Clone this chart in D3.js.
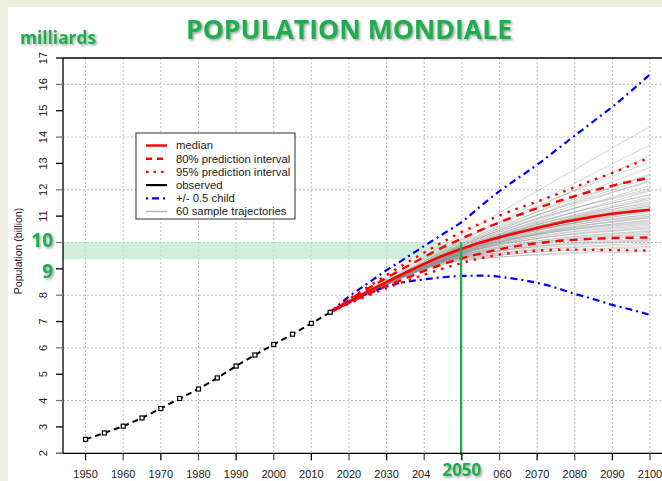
<!DOCTYPE html>
<html>
<head>
<meta charset="utf-8">
<script src="https://cdn.jsdelivr.net/npm/d3@7"></script>
<style>
  body { margin: 0; background: #ffffff; }
  svg { display: block; }
  text { font-family: "Liberation Sans", Arial, sans-serif; }
</style>
</head>
<body>
<div id="chart"></div>
<script>
// observed population 1950-2015 (billions)
const obsYears = [1950, 1955, 1960, 1965, 1970, 1975, 1980, 1985, 1990, 1995, 2000, 2005, 2010, 2015];
const obsValues = [2.53, 2.77, 3.03, 3.34, 3.70, 4.08, 4.44, 4.86, 5.31, 5.73, 6.13, 6.52, 6.93, 7.35];

// projections 2015-2100
const projYears = [2015, 2020, 2025, 2030, 2035, 2040, 2045, 2050, 2055, 2060, 2065, 2070, 2075, 2080, 2085, 2090, 2095, 2100];
const median = [7.35, 7.76, 8.14, 8.50, 8.85, 9.19, 9.50, 9.76, 10.00, 10.20, 10.38, 10.55, 10.71, 10.85, 10.98, 11.09, 11.17, 11.24];
const pi80Up = [7.35, 7.82, 8.25, 8.66, 9.06, 9.45, 9.82, 10.15, 10.47, 10.76, 11.04, 11.30, 11.54, 11.76, 11.97, 12.16, 12.32, 12.45];
const pi80Lo = [7.35, 7.71, 8.04, 8.35, 8.64, 8.92, 9.18, 9.40, 9.58, 9.74, 9.87, 9.97, 10.05, 10.10, 10.14, 10.17, 10.18, 10.19];
const pi95Up = [7.35, 7.85, 8.31, 8.76, 9.20, 9.62, 10.02, 10.40, 10.72, 11.02, 11.30, 11.55, 11.82, 12.10, 12.38, 12.64, 12.93, 13.23];
const pi95Lo = [7.35, 7.68, 7.98, 8.27, 8.53, 8.78, 9.01, 9.22, 9.40, 9.54, 9.63, 9.69, 9.72, 9.73, 9.72, 9.71, 9.70, 9.69];
const childUp = [7.35, 7.95, 8.45, 8.95, 9.40, 9.87, 10.32, 10.78, 11.38, 11.95, 12.45, 12.95, 13.50, 14.05, 14.60, 15.15, 15.75, 16.38];
const childLo = [7.35, 7.72, 8.06, 8.33, 8.50, 8.60, 8.68, 8.73, 8.74, 8.70, 8.60, 8.47, 8.28, 8.05, 7.85, 7.63, 7.45, 7.25];

// 60 sample trajectories: value read at 2050 and 2100
const traj2050 = [10.30, 10.05, 9.95, 10.10, 9.90, 9.85, 10.00, 9.80, 9.95, 9.75,
                  9.85, 9.70, 9.90, 9.78, 9.72, 9.82, 9.68, 9.75, 9.80, 9.66,
                  9.74, 9.70, 9.62, 9.77, 9.64, 9.72, 9.60, 9.69, 9.58, 9.73,
                  9.65, 9.56, 9.70, 9.60, 9.63, 9.55, 9.67, 9.52, 9.58, 9.61,
                  9.50, 9.57, 9.47, 9.54, 9.49, 9.44, 9.53, 9.42, 9.46, 9.40,
                  9.48, 9.36, 9.43, 9.33, 9.39, 9.30, 9.35, 9.62, 9.88, 9.57];
const traj2100 = [14.40, 13.70, 13.30, 13.05, 12.85, 12.60, 12.55, 12.35, 12.30, 12.15,
                  12.05, 11.95, 11.98, 11.82, 11.72, 11.80, 11.55, 11.62, 11.50, 11.40,
                  11.45, 11.33, 11.25, 11.38, 11.18, 11.22, 11.08, 11.15, 10.98, 11.05,
                  10.92, 10.85, 11.00, 10.78, 10.82, 10.70, 10.74, 10.60, 10.65, 10.52,
                  10.45, 10.55, 10.38, 10.42, 10.30, 10.25, 10.33, 10.18, 10.12, 10.05,
                  10.08, 9.98, 9.92, 9.85, 9.80, 9.72, 9.65, 11.68, 12.45, 10.95];

const yTicks = d3.range(2, 18);
const yGrid = [2, 4, 6, 8, 10, 12, 14, 16];
const xTicks = d3.range(1950, 2101, 10);

const width = 662, height = 481;
const svg = d3.select("#chart").append("svg")
    .attr("width", width).attr("height", height);

const defs = svg.append("defs");
const shadow = defs.append("filter").attr("id", "shadow")
    .attr("x", "-10%").attr("y", "-20%").attr("width", "130%").attr("height", "160%");
shadow.append("feDropShadow").attr("dx", 1.5).attr("dy", 1.5)
    .attr("stdDeviation", 0.8).attr("flood-color", "#555").attr("flood-opacity", 0.55);

// page background strips
svg.append("rect").attr("x", 0).attr("y", 0).attr("width", width).attr("height", height).attr("fill", "#ffffff");
svg.append("rect").attr("x", 0).attr("y", 0).attr("width", width).attr("height", 7).attr("fill", "#edefdf");
svg.append("rect").attr("x", 0).attr("y", 0).attr("width", 8).attr("height", height).attr("fill", "#edefdf");

const x = d3.scaleLinear().domain([1944, 2106]).range([63, 672.6]);
const y = d3.scaleLinear().domain([2, 17]).range([453.3, 58]);

const green = "#1fae4f";

// grid
svg.append("g").selectAll("line").data(xTicks).join("line")
    .attr("x1", d => x(d)).attr("x2", d => x(d))
    .attr("y1", y(17)).attr("y2", y(2))
    .attr("stroke", "#bdbdbd").attr("stroke-width", 1).attr("stroke-dasharray", "2,2");
svg.append("g").selectAll("line").data(yGrid).join("line")
    .attr("x1", x(1944)).attr("x2", width)
    .attr("y1", d => y(d)).attr("y2", d => y(d))
    .attr("stroke", "#bdbdbd").attr("stroke-width", 1).attr("stroke-dasharray", "2,2");

// highlighted band 9.4 - 10 up to 2050
svg.append("rect")
    .attr("x", x(1944)).attr("y", y(10))
    .attr("width", x(2049.8) - x(1944)).attr("height", y(9.37) - y(10))
    .attr("fill", "#bfe9cf").attr("opacity", 0.75);

const line = d3.line().x(d => x(d[0])).y(d => y(d[1])).curve(d3.curveMonotoneX);

// sample trajectories
const trajG = svg.append("g");
traj2050.forEach((v, i) => {
  trajG.append("path")
    .attr("d", line([[2015, 7.35], [2050, v], [2100, traj2100[i]]]))
    .attr("fill", "none").attr("stroke", "#8f8f8f")
    .attr("stroke-opacity", 0.4).attr("stroke-width", 0.9);
});

const zip = arr => projYears.map((yr, i) => [yr, arr[i]]);

// +/- 0.5 child
[childUp, childLo].forEach(arr => {
  svg.append("path").attr("d", line(zip(arr)))
    .attr("fill", "none").attr("stroke", "#0000ff").attr("stroke-width", 2.2)
    .attr("stroke-dasharray", "7,4,2,4");
});
// 95% interval
[pi95Up, pi95Lo].forEach(arr => {
  svg.append("path").attr("d", line(zip(arr)))
    .attr("fill", "none").attr("stroke", "#ff0000").attr("stroke-width", 2.4)
    .attr("stroke-dasharray", "2.5,6");
});
// 80% interval
[pi80Up, pi80Lo].forEach(arr => {
  svg.append("path").attr("d", line(zip(arr)))
    .attr("fill", "none").attr("stroke", "#ff0000").attr("stroke-width", 2.4)
    .attr("stroke-dasharray", "8,6");
});
// median
svg.append("path").attr("d", line(zip(median)))
    .attr("fill", "none").attr("stroke", "#ff0000").attr("stroke-width", 2.6);

// observed
const obs = obsYears.map((yr, i) => [yr, obsValues[i]]);
svg.append("path").attr("d", d3.line().x(d => x(d[0])).y(d => y(d[1]))(obs))
    .attr("fill", "none").attr("stroke", "#000").attr("stroke-width", 2)
    .attr("stroke-dasharray", "6,4");
svg.append("g").selectAll("rect").data(obs).join("rect")
    .attr("x", d => x(d[0]) - 2).attr("y", d => y(d[1]) - 2)
    .attr("width", 4).attr("height", 4)
    .attr("fill", "#fff").attr("stroke", "#000").attr("stroke-width", 1.2);

// 2050 marker line
svg.append("line")
    .attr("x1", x(2049.8)).attr("x2", x(2049.8))
    .attr("y1", y(10)).attr("y2", y(2) + 2)
    .attr("stroke", green).attr("stroke-width", 2.2);

// axes frame
svg.append("line").attr("x1", x(1944)).attr("x2", x(1944)).attr("y1", y(17)).attr("y2", y(2))
    .attr("stroke", "#000").attr("stroke-width", 1.3);
svg.append("line").attr("x1", x(1944)).attr("x2", width).attr("y1", y(17)).attr("y2", y(17))
    .attr("stroke", "#000").attr("stroke-width", 1.3);
svg.append("line").attr("x1", x(1944) - 7).attr("x2", width).attr("y1", y(2)).attr("y2", y(2))
    .attr("stroke", "#000").attr("stroke-width", 1.3);

// y axis ticks and labels (9 and 10 are replaced by the big green labels)
const yAxis = svg.append("g");
yAxis.selectAll("line").data(yTicks).join("line")
    .attr("x1", x(1944) - 7).attr("x2", x(1944))
    .attr("y1", d => y(d)).attr("y2", d => y(d))
    .attr("stroke", d => d % 2 === 0 ? "#777" : "#000").attr("stroke-width", 1.3);
yAxis.selectAll("text").data(yTicks.filter(d => d !== 9 && d !== 10)).join("text")
    .attr("transform", d => `translate(43,${y(d)}) rotate(-90)`)
    .attr("text-anchor", "middle").attr("dy", "0.35em")
    .attr("font-size", 11).attr("fill", "#222")
    .text(d => d);

svg.append("text")
    .attr("transform", `translate(18,251) rotate(-90)`)
    .attr("text-anchor", "middle").attr("dy", "0.35em")
    .attr("font-size", 10.5).attr("fill", "#222")
    .text("Population (billion)");

// x axis ticks and labels (2050 is replaced by the big green label)
const xAxis = svg.append("g");
xAxis.selectAll("line").data(xTicks).join("line")
    .attr("x1", d => x(d)).attr("x2", d => x(d))
    .attr("y1", y(2)).attr("y2", y(2) + 7)
    .attr("stroke", (d, i) => i % 2 === 0 ? "#000" : "#555").attr("stroke-width", 1.3);
xAxis.selectAll("text").data(xTicks.filter(d => d !== 2050)).join("text")
    .attr("x", d => x(d)).attr("y", 478)
    .attr("text-anchor", "middle").attr("font-size", 11).attr("fill", "#222")
    .text(d => d);

// big 2050 label over the axis, its white box hides the neighbouring digits
svg.append("rect").attr("x", 430).attr("y", 462).attr("width", 63).attr("height", 19).attr("fill", "#fff");
svg.append("text").attr("x", x(2050)).attr("y", 475.5)
    .attr("text-anchor", "middle").attr("font-size", 17).attr("font-weight", "bold")
    .attr("fill", green).attr("filter", "url(#shadow)")
    .style("font-family", "'Open Sans', sans-serif")
    .text("2050");

// big 10 / 9 labels
svg.append("text").attr("x", 53).attr("y", 247).attr("text-anchor", "end")
    .attr("font-size", 19).attr("font-weight", "bold").attr("fill", green)
    .attr("filter", "url(#shadow)").style("font-family", "'Open Sans', sans-serif")
    .text("10");
svg.append("text").attr("x", 53).attr("y", 278).attr("text-anchor", "end")
    .attr("font-size", 19).attr("font-weight", "bold").attr("fill", green)
    .attr("filter", "url(#shadow)").style("font-family", "'Open Sans', sans-serif")
    .text("9");

// titles
svg.append("text").attr("x", 186).attr("y", 39)
    .attr("font-size", 26).attr("font-weight", "bold").attr("fill", green)
    .attr("textLength", 326).attr("lengthAdjust", "spacingAndGlyphs")
    .attr("filter", "url(#shadow)").style("font-family", "'Open Sans', sans-serif")
    .text("POPULATION MONDIALE");
svg.append("text").attr("x", 20).attr("y", 44)
    .attr("font-size", 17).attr("font-weight", "bold").attr("fill", green)
    .attr("textLength", 76).attr("lengthAdjust", "spacingAndGlyphs")
    .attr("filter", "url(#shadow)").style("font-family", "'Open Sans', sans-serif")
    .text("milliards");

// legend
const legendItems = [
  { label: "median", color: "#ff0000", dash: null, w: 2.4 },
  { label: "80% prediction interval", color: "#ff0000", dash: "6,5", w: 2.4 },
  { label: "95% prediction interval", color: "#ff0000", dash: "2.5,5", w: 2.4 },
  { label: "observed", color: "#000000", dash: null, w: 2.2 },
  { label: "+/- 0.5 child", color: "#0000ff", dash: "2,4,7,4", w: 2.2 },
  { label: "60 sample trajectories", color: "#bbbbbb", dash: null, w: 1.6 }
];
const lg = svg.append("g").attr("transform", "translate(136,133)");
lg.append("rect").attr("width", 159).attr("height", 86)
    .attr("fill", "#fff").attr("stroke", "#333").attr("stroke-width", 1);
const rows = lg.selectAll("g").data(legendItems).join("g")
    .attr("transform", (d, i) => `translate(0,${12.5 + i * 13.2})`);
rows.append("line").attr("x1", 10).attr("x2", 31)
    .attr("stroke", d => d.color).attr("stroke-width", d => d.w)
    .attr("stroke-dasharray", d => d.dash);
rows.append("text").attr("x", 40).attr("dy", "0.35em")
    .attr("font-size", 11.3).attr("fill", "#222")
    .text(d => d.label);
</script>
</body>
</html>
